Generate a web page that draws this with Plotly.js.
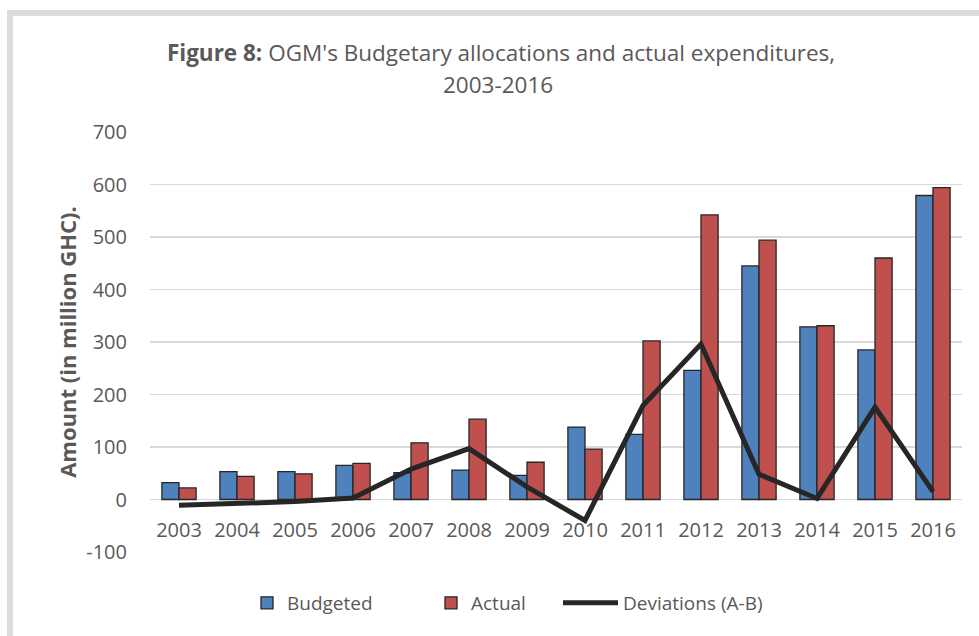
<!DOCTYPE html>
<html>
<head>
<meta charset="utf-8">
<script src="https://cdn.plot.ly/plotly-3.0.1.min.js"></script>
<style>
  html, body { margin: 0; padding: 0; background: #ffffff; }
  #frame { position: absolute; left: 7px; top: 10px; width: 972px; height: 626px;
           border-top: 6px solid #dcdcdc; border-left: 6px solid #dcdcdc; box-sizing: border-box; }
  #chart { position: absolute; left: 0; top: 0; width: 979px; height: 636px; }
</style>
</head>
<body>
<div id="frame"></div>
<div id="chart"></div>
<script>
const years = ["2003","2004","2005","2006","2007","2008","2009","2010","2011","2012","2013","2014","2015","2016"];
const budgeted = [32, 53, 53, 65, 51, 56, 46, 138, 124, 246, 445, 329, 285, 579];
const actual = [22, 44, 49, 69, 108, 153, 71, 96, 302, 542, 494, 331, 460, 594];
const deviations = [-11, -8, -4, 3, 58, 97, 24, -40, 179, 296, 48, 2, 176, 15];
const yTicks = [-100, 0, 100, 200, 300, 400, 500, 600, 700];

const textColor = "#595959";
const fontFam = "'Open Sans', 'DejaVu Sans', sans-serif";

const data = [
  { type: "bar", name: "Budgeted", x: years, y: budgeted, legend: "legend",
    marker: { color: "#4F81BD", line: { color: "#262626", width: 1.3 } } },
  { type: "bar", name: "Actual", x: years, y: actual, legend: "legend2",
    marker: { color: "#C0504D", line: { color: "#262626", width: 1.3 } } },
  { type: "scatter", mode: "lines", name: "Deviations (A-B)", x: years, y: deviations, legend: "legend3",
    line: { color: "#262626", width: 5 } }
];

function legendAt(px, iw) {
  return {
    orientation: "h", xref: "container", yref: "container",
    x: px / 979, xanchor: "left", y: 1 - 603/636, yanchor: "middle",
    font: { family: fontFam, size: 19, color: textColor },
    itemwidth: iw, bgcolor: "rgba(0,0,0,0)"
  };
}

const layout = {
  width: 979, height: 636,
  paper_bgcolor: "rgba(0,0,0,0)", plot_bgcolor: "rgba(0,0,0,0)",
  margin: { l: 150, r: 17, t: 132, b: 84 },
  font: { family: fontFam, color: textColor, size: 19 },
  barmode: "group", bargap: 0.41, bargroupgap: 0,
  title: {
    text: "<b>Figure 8:</b> OGM's Budgetary allocations and actual expenditures,",
    font: { family: fontFam, size: 22.5, color: textColor },
    x: 501/979, xref: "container", xanchor: "center",
    y: 1 - 53/636, yref: "container", yanchor: "middle"
  },
  annotations: [
    { text: "2003-2016", xref: "paper", yref: "paper", showarrow: false,
      x: (498 - 150) / 812, y: 1 + (132 - 85) / 420, xanchor: "center", yanchor: "middle",
      font: { family: fontFam, size: 22.5, color: textColor } }
  ],
  xaxis: {
    type: "category", anchor: "free", position: 0.125,
    showline: false, showgrid: false, ticks: "",
    tickfont: { family: fontFam, size: 20, color: textColor },
    ticklabelstandoff: 16
  },
  yaxis: {
    range: [-100, 700], tickvals: yTicks, ticktext: yTicks.map(String),
    showgrid: true, gridcolor: "#d9d9d9", gridwidth: 1.5,
    zeroline: true, zerolinecolor: "#d9d9d9", zerolinewidth: 1.5,
    showline: false, ticks: "",
    tickfont: { family: fontFam, size: 20, color: textColor },
    ticklabelstandoff: 22,
    title: { text: "<b>Amount (in million GHC).</b>", font: { family: fontFam, size: 22, color: textColor }, standoff: 3 }
  },
  legend: legendAt(247, 30),
  legend2: legendAt(431, 30),
  legend3: legendAt(558, 55),
  showlegend: true
};

Plotly.newPlot("chart", data, layout, { displayModeBar: false, staticPlot: true });
</script>
</body>
</html>
